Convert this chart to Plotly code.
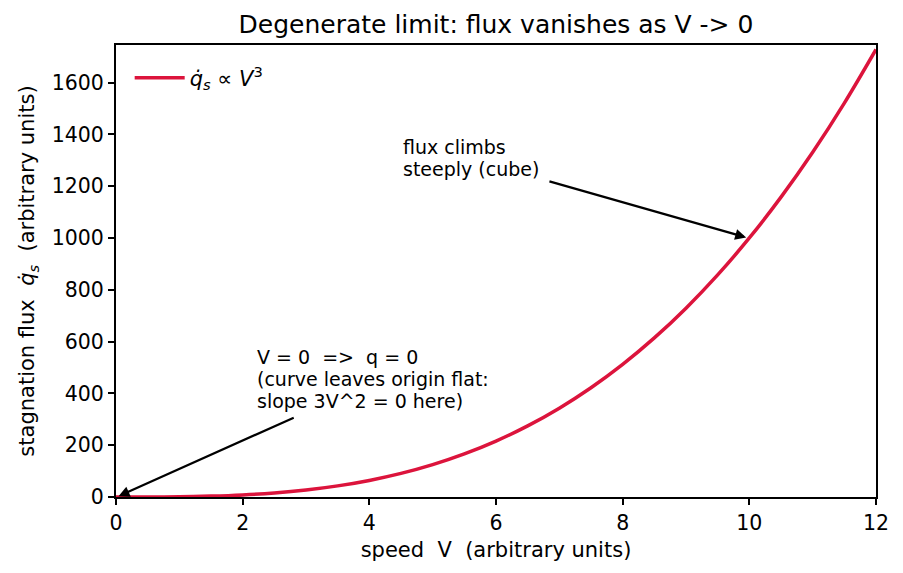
import plotly.graph_objects as go

# speed V (arbitrary units) and stagnation flux q_s (arbitrary units)
speed = [0, 0.5, 1, 1.5, 2, 2.5, 3, 3.5, 4, 4.5, 5, 5.5, 6, 6.5, 7, 7.5, 8, 8.5,
         9, 9.5, 10, 10.5, 11, 11.5, 12]
flux = [0, 0.125, 1, 3.4, 8, 15.6, 27, 42.9, 64, 91.1, 125, 166.4, 216, 274.6,
        343, 421.9, 512, 614.1, 729, 857.4, 1000, 1157.6, 1331, 1520.9, 1728]

x_ticks = [0, 2, 4, 6, 8, 10, 12]
y_ticks = [0, 200, 400, 600, 800, 1000, 1200, 1400, 1600]

FONT = "DejaVu Sans"
NB = "\u00a0"

fig = go.Figure()
fig.add_trace(go.Scatter(
    x=speed, y=flux, mode="lines",
    line=dict(color="#DC143C", width=3.5, shape="spline"),
    name="<i>q̇<sub>s</sub></i> ∝ <i>V</i><sup>3</sup>",
))

fig.update_layout(
    width=903, height=573,
    margin=dict(l=116, r=27, t=45, b=76),
    paper_bgcolor="white", plot_bgcolor="white",
    font=dict(family=FONT, size=20, color="black"),
    title=dict(text="Degenerate limit: flux vanishes as V -> 0",
               xref="paper", x=0.5, xanchor="center", yref="container", y=1 - 24 / 573,
               yanchor="middle", font=dict(size=25)),
    showlegend=True,
    legend=dict(x=0.018, y=0.972, xanchor="left", yanchor="top", itemwidth=50,
                bgcolor="rgba(0,0,0,0)", font=dict(size=21)),
    xaxis=dict(range=[0, 12], tickvals=x_ticks, showgrid=False, zeroline=False,
               showline=True, linecolor="black", linewidth=2.2, mirror=True,
               ticks="outside", ticklen=6, tickwidth=1.6, tickcolor="black",
               tickfont=dict(size=20.5),
               title=dict(text=f"speed{NB}{NB}V{NB}{NB}(arbitrary units)", standoff=9,
                          font=dict(size=21))),
    yaxis=dict(range=[0, 1745], tickvals=y_ticks, showgrid=False, zeroline=False,
               showline=True, linecolor="black", linewidth=2.2, mirror=True,
               ticks="outside", ticklen=6, tickwidth=1.6, tickcolor="black",
               tickfont=dict(size=20.5),
               title=dict(text=f"stagnation flux{NB}{NB}<i>q̇<sub>s</sub></i>{NB}{NB}(arbitrary units)",
                          standoff=11, font=dict(size=21))),
)

# arrows
fig.add_annotation(x=0.04, y=3, ax=2.83, ay=309, xref="x", yref="y", axref="x", ayref="y",
                   text="", showarrow=True, arrowhead=2, arrowsize=1.0, arrowwidth=2.2,
                   arrowcolor="black")
fig.add_annotation(x=9.95, y=1002, ax=6.82, ay=1220, xref="x", yref="y", axref="x", ayref="y",
                   text="", showarrow=True, arrowhead=2, arrowsize=1.0, arrowwidth=2.2,
                   arrowcolor="black")

# texts (one annotation per line, matplotlib-like line spacing)
note_origin = ["V = 0" + NB * 2 + "=>" + NB * 2 + "q = 0",
               "(curve leaves origin flat:",
               "slope 3V^2 = 0 here)"]
note_cube = ["flux climbs", "steeply (cube)"]

for i, line in enumerate(note_origin):
    fig.add_annotation(x=2.2, y=540, xref="x", yref="y", xanchor="left", yanchor="middle",
                       showarrow=False, font=dict(size=19), text=line, yshift=-22 * i)
for i, line in enumerate(note_cube):
    fig.add_annotation(x=4.5, y=1352, xref="x", yref="y", xanchor="left", yanchor="middle",
                       showarrow=False, font=dict(size=19), text=line, yshift=-22 * i)

fig.write_html("out.html")
